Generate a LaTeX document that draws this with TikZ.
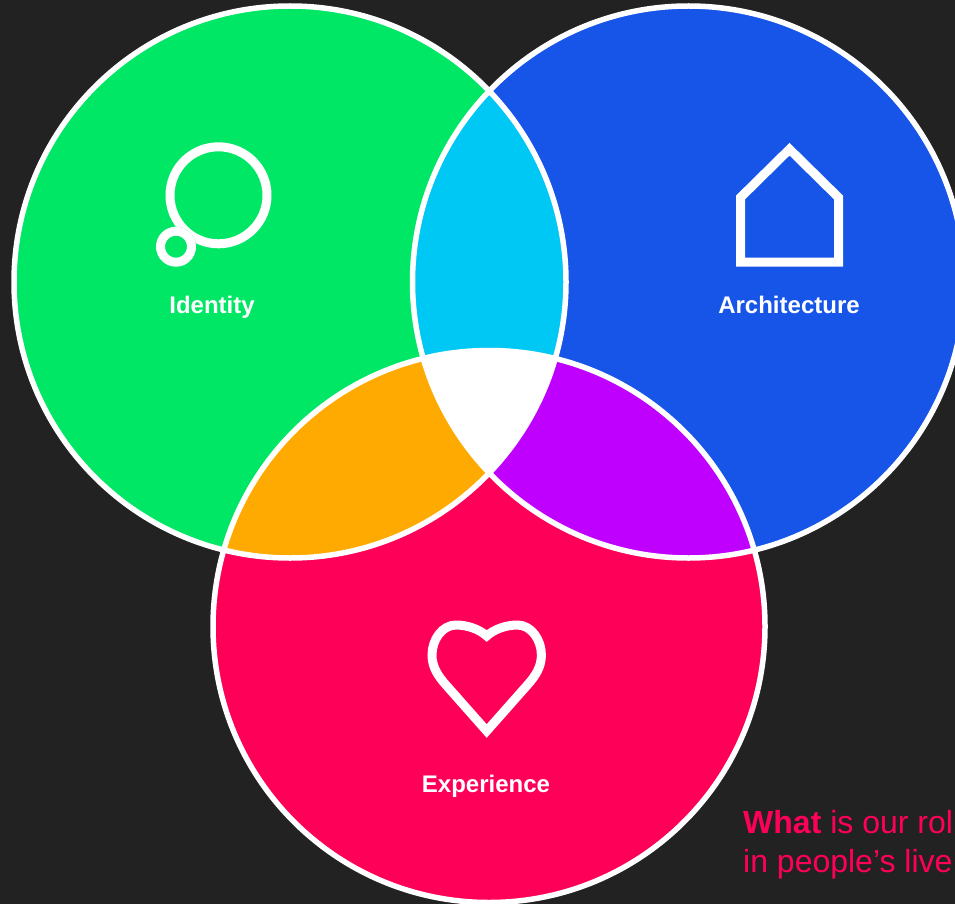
\documentclass[tikz,border=0pt]{standalone}
\usepackage{fontspec}
\setmainfont{Liberation Sans}
\definecolor{bg}{HTML}{222222}
\definecolor{cgreen}{HTML}{00E765}
\definecolor{cblue}{HTML}{1655E8}
\definecolor{cpink}{HTML}{FF0059}
\definecolor{ccyan}{HTML}{00C8F5}
\definecolor{corange}{HTML}{FFAA00}
\definecolor{cpurple}{HTML}{BF00FF}
\tikzset{
  ring/.style={draw=white,line width=5.5pt},
  icon/.style={draw=white,line width=9pt,miter limit=10},
  lab/.style={text=white,font=\fontsize{24}{28}\selectfont\bfseries,anchor=base,inner sep=0pt},
  note/.style={text=cpink,font=\fontsize{32}{40}\selectfont,anchor=base west,inner sep=0pt}
}
\newcommand{\cg}{(290,282) circle (276)}
\newcommand{\cb}{(688.5,282) circle (276)}
\newcommand{\cp}{(489,626.5) circle (276)}
\begin{document}
\begin{tikzpicture}[x=1pt,y=-1pt]
\useasboundingbox (0,0) rectangle (955,904);
\clip (0,0) rectangle (955,904);
\fill[bg] (0,0) rectangle (955,904);
% circles
\fill[cgreen] \cg;
\fill[cblue] \cb;
\fill[cpink] \cp;
% overlaps
\begin{scope}\clip \cg; \fill[ccyan] \cb; \end{scope}
\begin{scope}\clip \cg; \fill[corange] \cp; \end{scope}
\begin{scope}\clip \cb; \fill[cpurple] \cp; \end{scope}
\begin{scope}\clip \cg; \clip \cb; \fill[white] \cp; \end{scope}
% outlines
\draw[ring] \cg;
\draw[ring] \cb;
\draw[ring] \cp;
% thought icon
\draw[icon] (218.5,195.3) circle (48.5);
\fill[cgreen] (176,246.7) circle (20);
\draw[icon] (176,246.7) circle (15.5);
% house icon
\draw[icon] (740.5,262.2) -- (740.5,197.5) -- (789.5,149.2) -- (838.5,197.5) -- (838.5,262.2) -- cycle;
% heart icon
\draw[icon] (486.7,636) .. controls (479,629) and (467,625) .. (456,625)
  .. controls (442,625) and (432,640) .. (432,655)
  .. controls (432,667) and (438,676) .. (446,685)
  -- (486.7,731) -- (527.4,685)
  .. controls (535.4,676) and (541.4,667) .. (541.4,655)
  .. controls (541.4,640) and (531.4,625) .. (517.4,625)
  .. controls (506.4,625) and (494.4,629) .. (486.7,636) -- cycle;
% labels
\node[lab] (identity) at (212,313) {Identity};
\node[lab] (architecture) at (789,313) {Architecture};
\node[lab] (experience) at (486,792) {Experience};
\node[note] (what) at (743,833) {\textbf{What} is our rol};
\node[note] (people) at (743,872) {in people’s live};
\end{tikzpicture}
\end{document}
